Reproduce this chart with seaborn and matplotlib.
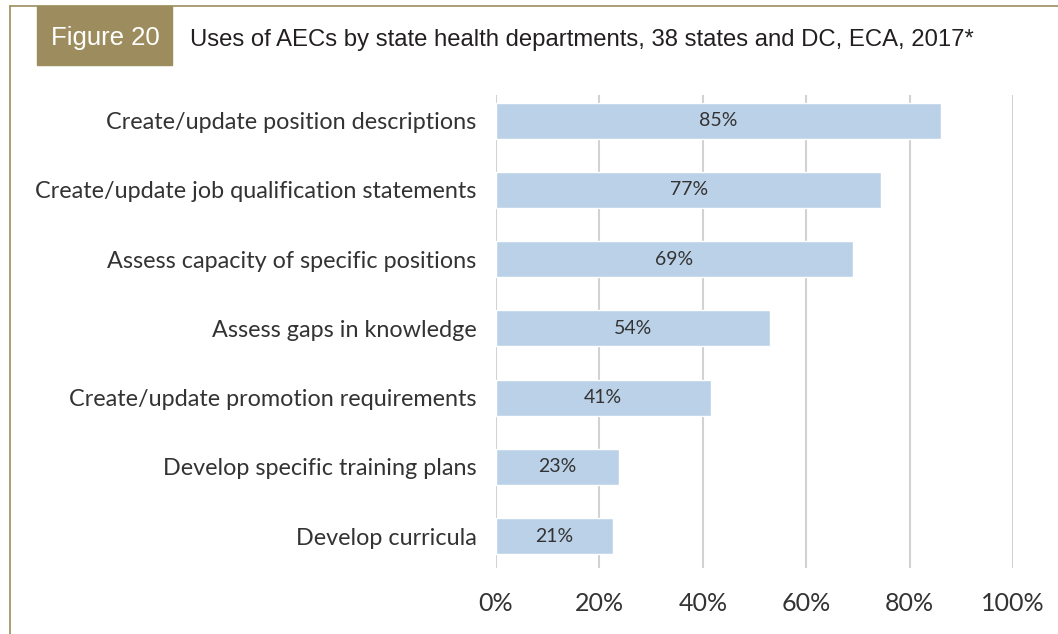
import matplotlib
matplotlib.use("Agg")
import matplotlib.pyplot as plt
import seaborn as sns
import pandas as pd
from matplotlib.lines import Line2D
from matplotlib.patches import Rectangle

# Data
categories = [
    "Create/update position descriptions",
    "Create/update job qualification statements",
    "Assess capacity of specific positions",
    "Assess gaps in knowledge",
    "Create/update promotion requirements",
    "Develop specific training plans",
    "Develop curricula",
]
# bar lengths as drawn in the source (%)
bar_values = [86, 74.5, 69, 53, 41.5, 23.7, 22.6]
# printed data labels (%)
label_values = [85, 77, 69, 54, 41, 23, 21]
x_ticks = [0, 20, 40, 60, 80, 100]

BAR_COLOR = "#BBD1E8"
GRID_COLOR = "#D2D2D2"
TEXT_COLOR = "#333333"
GOLD = "#9D8D5E"

sns.set_theme(style="white")
plt.rcParams["font.family"] = ["Lato", "DejaVu Sans"]

df = pd.DataFrame({"Use": categories, "Percent": bar_values})

fig = plt.figure(figsize=(10.58, 6.34), dpi=100)
ax = fig.add_axes([496 / 1058, 1 - 568 / 634, (1013 - 496) / 1058, (568 - 95) / 634])

sns.barplot(data=df, y="Use", x="Percent", color=BAR_COLOR, width=0.52,
            saturation=1, ax=ax, zorder=3)

ax.set_xlim(0, 100)
ax.set_ylim(6.46, -0.37)
ax.set_xticks(x_ticks)
ax.set_xticklabels([f"{t}%" for t in x_ticks], fontsize=18, color=TEXT_COLOR)
ax.tick_params(axis="x", length=0, pad=17)
ax.tick_params(axis="y", length=0, pad=14, labelsize=16.8, labelcolor=TEXT_COLOR)
ax.set_xlabel("")
ax.set_ylabel("")
for s in ax.spines.values():
    s.set_visible(False)
ax.xaxis.grid(True, color=GRID_COLOR, linewidth=1.5, zorder=0)
ax.set_axisbelow(True)

for i, (b, lab) in enumerate(zip(bar_values, label_values)):
    ax.text(b / 2, i, f"{lab}%", ha="center", va="center",
            fontsize=14, color=TEXT_COLOR, zorder=4)

# header box and frame
fig.patches.append(Rectangle((37 / 1058, 1 - 65 / 634), (172 - 37) / 1058, 59 / 634,
                             transform=fig.transFigure, color=GOLD, zorder=1))
fig.text(105 / 1058, 1 - 38 / 634, "Figure 20", ha="center", va="center",
         color="white", fontsize=18.5, family=["Liberation Sans", "DejaVu Sans"])
fig.text(190 / 1058, 1 - 40 / 634,
         "Uses of AECs by state health departments, 38 states and DC, ECA, 2017*",
         ha="left", va="center", color="#231F20", fontsize=17.2,
         family=["Liberation Sans", "DejaVu Sans"])
fig.lines.append(Line2D([10 / 1058, 1], [1 - 6 / 634, 1 - 6 / 634],
                        transform=fig.transFigure, color=GOLD, linewidth=1.2))
fig.lines.append(Line2D([10 / 1058, 10 / 1058], [0, 1 - 6 / 634],
                        transform=fig.transFigure, color=GOLD, linewidth=1.2))

fig.savefig("out.png", dpi=100)
